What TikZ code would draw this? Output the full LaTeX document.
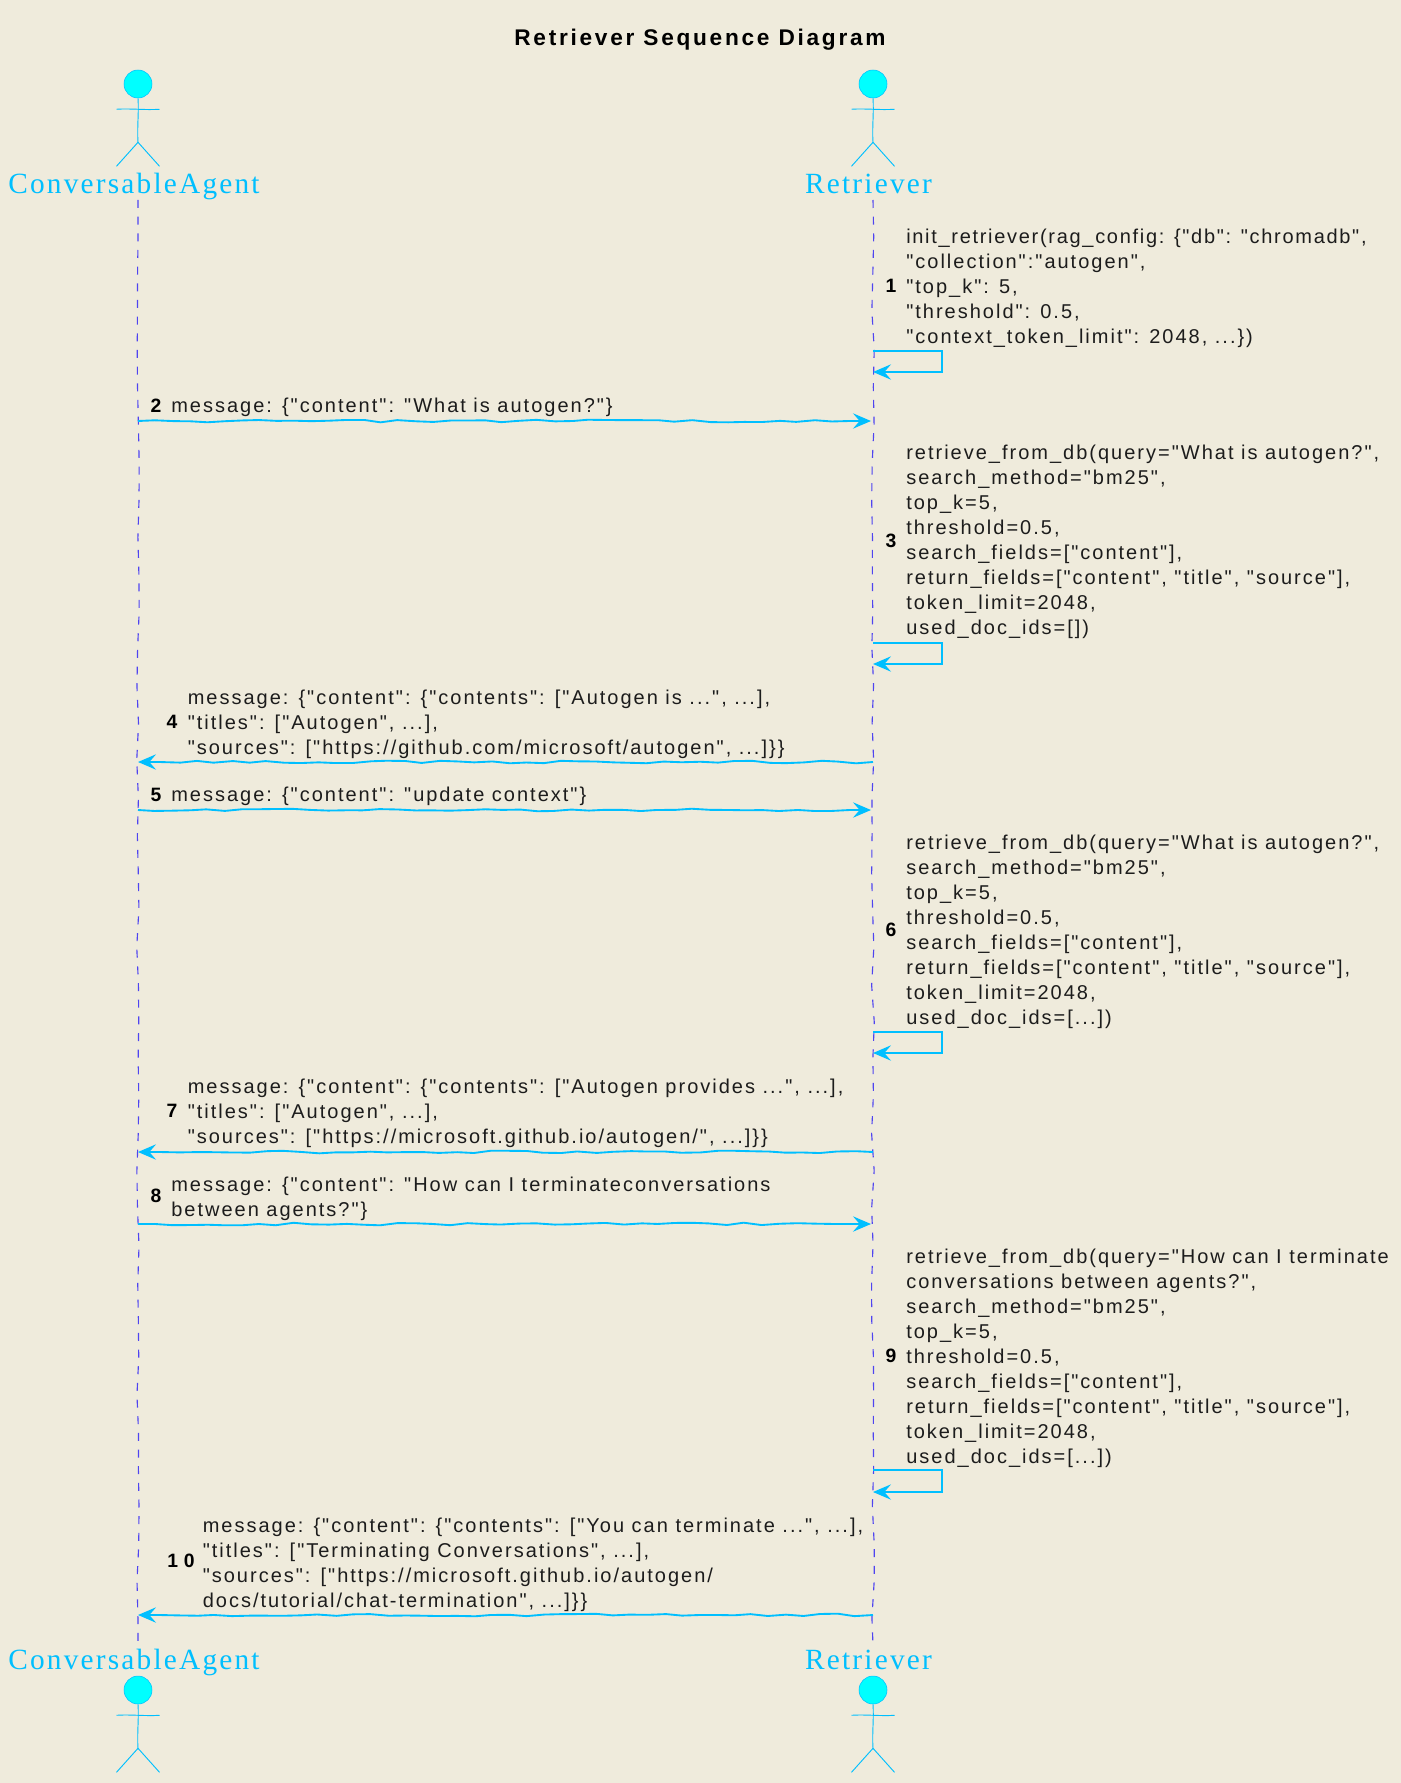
\documentclass[tikz,border=0pt]{standalone}
\usepackage{fontspec}
\usetikzlibrary{arrows.meta,decorations.pathmorphing,calc,shapes.geometric}
\setmainfont{Liberation Sans}
\newfontfamily\msgfont{Liberation Sans}[LetterSpace=10]
\newfontfamily\tightfont{Liberation Sans}[LetterSpace=8.5]
\newfontfamily\ttlfont{Liberation Sans}[LetterSpace=12,BoldFont={Liberation Sans Bold}]
\newfontfamily\numfont{Liberation Sans}[LetterSpace=30,BoldFont={Liberation Sans Bold}]
\newfontfamily\actfont{Liberation Serif}[LetterSpace=7.5]
\definecolor{bgc}{HTML}{EFEBDC}
\definecolor{skyl}{HTML}{00BFFF}
\definecolor{headc}{HTML}{00FFFF}
\definecolor{lifec}{HTML}{4F44F0}
\definecolor{txtc}{HTML}{1C1C1C}
\tikzset{
  msg/.style={anchor=west,inner sep=0pt,align=left,text=txtc,font=\msgfont\fontsize{15}{18.75}\selectfont},
  seqnum/.style={inner sep=0pt,text=black,font=\numfont\bfseries\fontsize{14.5}{18.75}\selectfont},
  actorlabel/.style={anchor=base,inner sep=0pt,text=skyl,font=\actfont\fontsize{22}{25}\selectfont},
  wob/.style={decorate,decoration={random steps,segment length=13pt,amplitude=1pt,post=lineto,post length=16pt}},
  arrowline/.style={draw=skyl,line width=1.4pt,wob,-{Stealth[length=13.5pt,width=11.5pt,inset=5pt]}},
  selfline/.style={draw=skyl,line width=1.4pt,-{Stealth[length=13.5pt,width=11.5pt,inset=5pt]}},
  lifeline/.style={draw=lifec,line width=0.85pt,dash pattern=on 6pt off 6.5pt,decorate,decoration={random steps,segment length=28pt,amplitude=1.1pt}},
  stick/.style={draw=skyl,line width=0.7pt},
  headnode/.style={ellipse,draw=skyl,fill=headc,line width=0.4pt,inner sep=0pt,minimum width=21pt,minimum height=21pt},
}
\newcommand{\stickman}[3]{%
  \node[headnode] (#3) at (#1,#2) {};
  \draw[stick] (#3.south) .. controls ($(#3.south)+(1,15)$) and ($(#3.south)+(-1,28)$) .. ($(#3.south)+(0,44)$);
  \draw[stick] ($(#3.south)+(-21.5,11)$) .. controls ($(#3.south)+(-8,10)$) and ($(#3.south)+(8,12)$) .. ($(#3.south)+(21.5,11)$);
  \draw[stick] ($(#3.south)+(-21.5,68)$) -- ($(#3.south)+(0,44)$) -- ($(#3.south)+(21.5,68)$);
}
\begin{document}
\begin{tikzpicture}[x=0.75pt,y=-0.75pt]
\pgfmathsetseed{11}
\fill[bgc] (0,0) rectangle (1401,1783);
\useasboundingbox (0,0) rectangle (1401,1783);
% title
\node[inner sep=0pt,text=black,font=\ttlfont\bfseries\fontsize{17}{20}\selectfont] (title) at (700,40) {Retriever Sequence Diagram};
% actors
\stickman{138}{84}{headAt}
\stickman{873}{84}{headBt}
\stickman{138}{1690}{headAb}
\stickman{873}{1690}{headBb}
\node[actorlabel] (labAt) at (134,194) {ConversableAgent};
\node[actorlabel] (labBt) at (868.5,194) {Retriever};
\node[actorlabel] (labAb) at (134,1669) {ConversableAgent};
\node[actorlabel] (labBb) at (868.5,1669) {Retriever};
% lifelines
\coordinate (lAtop) at (138,200);
\coordinate (lAbot) at (138,1645);
\coordinate (lBtop) at (873,200);
\coordinate (lBbot) at (873,1645);
\draw[lifeline] (lAtop) -- (lAbot);
\draw[lifeline] (lBtop) -- (lBbot);
% 1
\node[msg] (t1) at (906,288) {{\tightfont init\_retriever(rag\_config: \{"db": "chromadb",}\\"collection":"autogen",\\"top\_k": 5,\\"threshold": 0.5,\\"context\_token\_limit": 2048, ...\})};
\node[seqnum] (n1) at (891,286) {1};
\coordinate (s1a) at (873,351); \coordinate (s1b) at (873,372);
\draw[selfline] (s1a) -- ++(69,0) -- ++(0,21) -- (s1b);
% 2
\node[msg] (t2) at (171,407) {message: \{"content": "What is autogen?"\}};
\node[seqnum] (n2) at (156,406) {2};
\coordinate (m2a) at (138,421); \coordinate (m2b) at (871,421);
\draw[arrowline] (m2a) -- (m2b);
% 3
\node[msg] (t3) at (906,542) {retrieve\_from\_db(query="What is autogen?",\\search\_method="bm25",\\top\_k=5,\\threshold=0.5,\\search\_fields=["content"],\\return\_fields=["content", "title", "source"],\\token\_limit=2048,\\used\_doc\_ids=[])};
\node[seqnum] (n3) at (891,541) {3};
\coordinate (s3a) at (873,643); \coordinate (s3b) at (873,664);
\draw[selfline] (s3a) -- ++(69,0) -- ++(0,21) -- (s3b);
% 4
\node[msg] (t4) at (187.5,724) {message: \{"content": \{"contents": ["Autogen is ...", ...],\\"titles": ["Autogen", ...],\\"sources": ["https://github.com/microsoft/autogen", ...]\}\}};
\node[seqnum] (n4) at (172,722) {4};
\coordinate (m4a) at (873,762); \coordinate (m4b) at (138,762);
\draw[arrowline] (m4a) -- (m4b);
% 5
\node[msg] (t5) at (171,796.5) {message: \{"content": "update context"\}};
\node[seqnum] (n5) at (156,795) {5};
\coordinate (m5a) at (138,810); \coordinate (m5b) at (871,810);
\draw[arrowline] (m5a) -- (m5b);
% 6
\node[msg] (t6) at (906,931.5) {retrieve\_from\_db(query="What is autogen?",\\search\_method="bm25",\\top\_k=5,\\threshold=0.5,\\search\_fields=["content"],\\return\_fields=["content", "title", "source"],\\token\_limit=2048,\\used\_doc\_ids=[...])};
\node[seqnum] (n6) at (891,930) {6};
\coordinate (s6a) at (873,1032); \coordinate (s6b) at (873,1053);
\draw[selfline] (s6a) -- ++(69,0) -- ++(0,21) -- (s6b);
% 7
\node[msg] (t7) at (187.5,1113) {message: \{"content": \{"contents": ["Autogen provides ...", ...],\\"titles": ["Autogen", ...],\\"sources": ["https://microsoft.github.io/autogen/", ...]\}\}};
\node[seqnum] (n7) at (172,1111) {7};
\coordinate (m7a) at (873,1152); \coordinate (m7b) at (138,1152);
\draw[arrowline] (m7a) -- (m7b);
% 8
\node[msg] (t8) at (171,1198.5) {message: \{"content": "How can I terminateconversations\\between agents?"\}};
\node[seqnum] (n8) at (156,1196) {8};
\coordinate (m8a) at (138,1224); \coordinate (m8b) at (871,1224);
\draw[arrowline] (m8a) -- (m8b);
% 9
\node[msg] (t9) at (906,1358) {retrieve\_from\_db(query="How can I terminate\\conversations between agents?",\\search\_method="bm25",\\top\_k=5,\\threshold=0.5,\\search\_fields=["content"],\\return\_fields=["content", "title", "source"],\\token\_limit=2048,\\used\_doc\_ids=[...])};
\node[seqnum] (n9) at (891,1356) {9};
\coordinate (s9a) at (873,1470); \coordinate (s9b) at (873,1492);
\draw[selfline] (s9a) -- ++(69,0) -- ++(0,22) -- (s9b);
% 10
\node[msg] (t10) at (202.5,1564.5) {message: \{"content": \{"contents": ["You can terminate ...", ...],\\"titles": ["Terminating Conversations", ...],\\"sources": ["https://microsoft.github.io/autogen/\\docs/tutorial/chat-termination", ...]\}\}};
\node[seqnum] (n10) at (181,1561) {10};
\coordinate (m10a) at (873,1615); \coordinate (m10b) at (138,1615);
\draw[arrowline] (m10a) -- (m10b);
\end{tikzpicture}
\end{document}
